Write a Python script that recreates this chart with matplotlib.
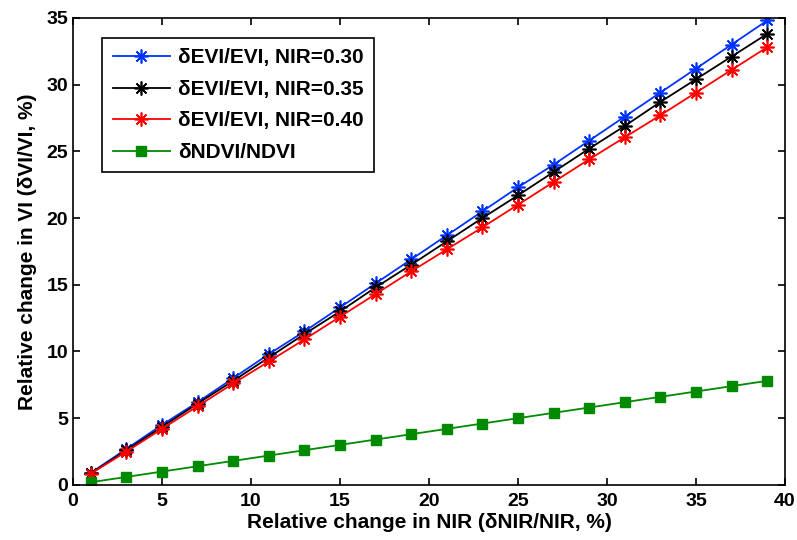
import numpy as np
import matplotlib.pyplot as plt

plt.rcParams['font.family'] = ['Liberation Sans', 'DejaVu Sans']
plt.rcParams['font.weight'] = 'bold'

## Datos
nir_change = [1, 3, 5, 7, 9, 11, 13, 15, 17, 19, 21, 23, 25, 27, 29, 31, 33, 35, 37, 39]
evi_030 = [0.9, 2.7, 4.5, 6.2, 8.0, 9.8, 11.5, 13.3, 15.1, 16.9, 18.7, 20.5,
           22.3, 24.0, 25.8, 27.6, 29.4, 31.2, 33.0, 34.8]
evi_035 = [0.87, 2.6, 4.35, 6.1, 7.8, 9.55, 11.3, 13.0, 14.8, 16.5, 18.25, 20.0,
           21.7, 23.45, 25.2, 26.9, 28.7, 30.4, 32.1, 33.8]
evi_040 = [0.84, 2.5, 4.2, 5.9, 7.6, 9.25, 10.9, 12.6, 14.3, 16.0, 17.65, 19.3,
           21.0, 22.7, 24.4, 26.05, 27.7, 29.4, 31.1, 32.8]
ndvi = [0.2, 0.6, 1.0, 1.4, 1.8, 2.2, 2.6, 3.0, 3.4, 3.8, 4.2, 4.6,
        5.0, 5.4, 5.8, 6.2, 6.6, 7.0, 7.4, 7.8]

## Grafica
ast = (8, 2, 0)  # asterisco estilo MATLAB
fig = plt.figure(figsize=(7.97, 5.4), dpi=100)
ax = fig.add_axes([0.0916, 0.102, 0.8934, 0.865])
ax.plot(nir_change, evi_030, color='#0033ff', marker=ast, markersize=10, mew=1.2, lw=1.3,
        label='δEVI/EVI, NIR=0.30')
ax.plot(nir_change, evi_035, color='black', marker=ast, markersize=10, mew=1.2, lw=1.3,
        label='δEVI/EVI, NIR=0.35')
ax.plot(nir_change, evi_040, color='#ff0000', marker=ast, markersize=10, mew=1.2, lw=1.3,
        label='δEVI/EVI, NIR=0.40')
ax.plot(nir_change, ndvi, color='#008a00', marker='s', markersize=7, lw=1.3,
        label='δNDVI/NDVI')

ax.set_xlim(0, 40)
ax.set_ylim(0, 35)
ax.set_xticks(np.arange(0, 41, 5))
ax.set_yticks(np.arange(0, 36, 5))
ax.tick_params(direction='in', top=True, right=True, labelsize=14, length=5, width=1.2)
ax.tick_params(axis='x', pad=6)
for s in ax.spines.values():
    s.set_linewidth(1.2)
ax.set_xlabel('Relative change in NIR (δNIR/NIR, %)', fontsize=15, fontweight='bold', labelpad=2)
ax.set_ylabel('Relative change in VI (δVI/VI, %)', fontsize=15, fontweight='bold', labelpad=7)
leg = ax.legend(loc='upper left', bbox_to_anchor=(0.041, 0.957), borderaxespad=0, fontsize=15,
                frameon=True, fancybox=False, edgecolor='black', framealpha=1,
                handlelength=2.75, handletextpad=0.4, borderpad=0.5, labelspacing=0.6)
leg.get_frame().set_linewidth(1.2)

fig.savefig('out.png', dpi=100)
